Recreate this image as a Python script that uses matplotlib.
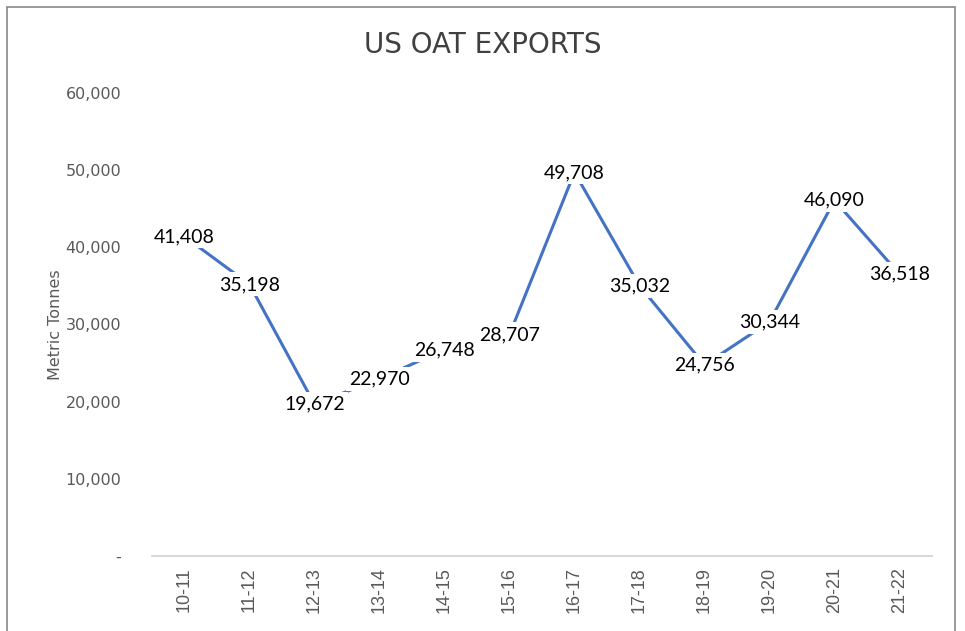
import matplotlib
matplotlib.use("Agg")
import matplotlib.pyplot as plt
from matplotlib.patches import Rectangle
from matplotlib.ticker import FuncFormatter

seasons = ["10-11", "11-12", "12-13", "13-14", "14-15", "15-16",
           "16-17", "17-18", "18-19", "19-20", "20-21", "21-22"]
exports = [41408, 35198, 19672, 22970, 26748, 28707,
           49708, 35032, 24756, 30344, 46090, 36518]
yticks = [0, 10000, 20000, 30000, 40000, 50000, 60000]

narrow = ["DejaVu Sans"]

fig = plt.figure(figsize=(9.65, 6.31), dpi=100)
ax = fig.add_axes([0.1575, 0.1189, 0.8083, 0.7337])

x = list(range(len(seasons)))
ax.plot(x, exports, color="#4472C4", linewidth=2.2, zorder=2)
for xi, v in zip(x, exports):
    ax.text(xi, v, f"{v:,}", ha="center", va="center", fontsize=14,
            family=["Lato", "DejaVu Sans"], color="black", zorder=3,
            bbox=dict(facecolor="white", edgecolor="none", pad=2.5))

ax.set_xlim(-0.5, len(seasons) - 0.5)
ax.set_ylim(0, 60000)
ax.set_yticks(yticks)
ax.yaxis.set_major_formatter(FuncFormatter(lambda v, p: "-" if v == 0 else f"{int(v):,}"))
ax.set_xticks(x)
ax.set_xticklabels(seasons, rotation=90, fontsize=13, color="#595959",
                   family=["Liberation Sans", "DejaVu Sans"])
for lab in ax.get_yticklabels():
    lab.set_family(narrow)
    lab.set_fontsize(11.5)
    lab.set_color("#595959")
ax.tick_params(axis="both", length=0)
ax.tick_params(axis="y", pad=22)
ax.tick_params(axis="x", pad=8)

for s in ["top", "right", "left"]:
    ax.spines[s].set_visible(False)
ax.spines["bottom"].set_color("#D9D9D9")
ax.spines["bottom"].set_linewidth(1.5)

ax.set_ylabel("Metric Tonnes", fontsize=11.5, color="#595959", family=narrow, labelpad=2)

fig.text(0.5, 0.929, "US OAT EXPORTS", ha="center", va="center", fontsize=20,
         color="#404040", family=narrow)

fig.patches.append(Rectangle((7 / 965, -0.01), 948 / 965, 1 - 7 / 631 + 0.01,
                             transform=fig.transFigure, fill=False,
                             edgecolor="#888888", linewidth=1.2))

fig.savefig("out.png", dpi=100)
